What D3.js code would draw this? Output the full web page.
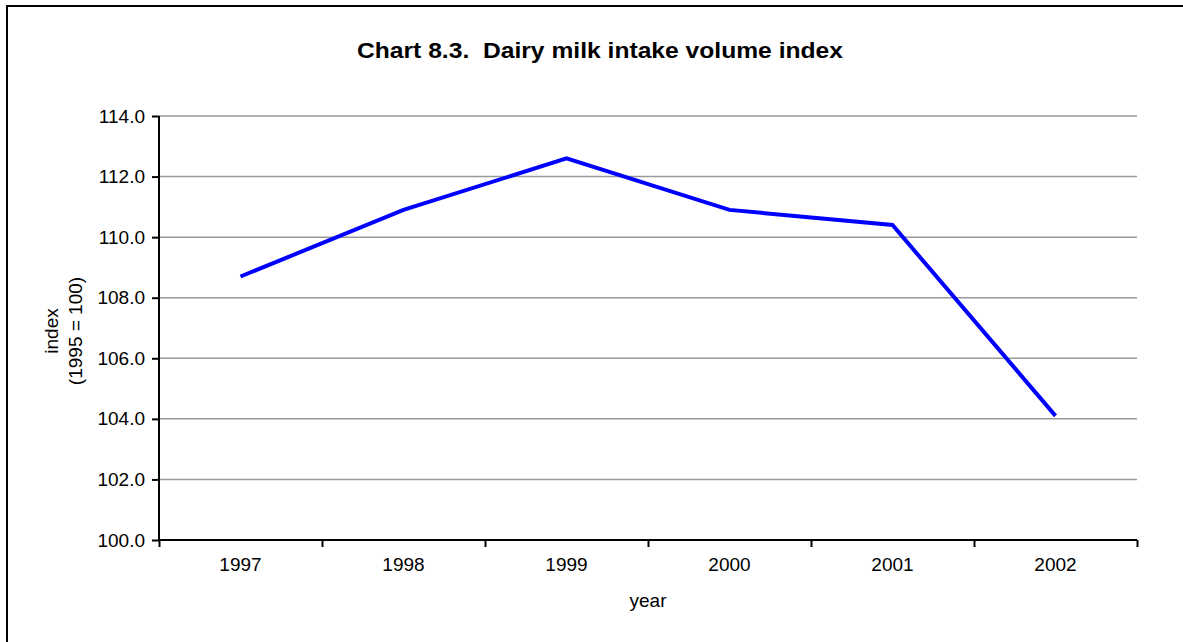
<!DOCTYPE html>
<html>
<head>
<meta charset="utf-8">
<script src="https://cdn.jsdelivr.net/npm/d3@7"></script>
<style>
  html, body { margin: 0; padding: 0; background: #fff; }
  svg { display: block; font-family: "Liberation Sans", Arial, sans-serif; }
</style>
</head>
<body>
<svg id="chart" width="1183" height="642"></svg>
<script>
const titleText = "Chart 8.3.  Dairy milk intake volume index";
const years = ["1997", "1998", "1999", "2000", "2001", "2002"];
const values = [108.7, 110.9, 112.6, 110.9, 110.4, 104.1];
const yTicks = [100, 102, 104, 106, 108, 110, 112, 114];
const yLabelLines = ["index", "(1995 = 100)"];
const xLabel = "year";

const W = 1183, H = 642;
const m = { left: 159, right: 1137, top: 116, bottom: 540 };
const FS = 19;
const svg = d3.select("#chart");

// outer frame (extends past the right/bottom edges as in the reference)
svg.append("rect").attr("x", 7).attr("y", 6).attr("width", W + 20).attr("height", H + 20)
  .attr("fill", "#fff").attr("stroke", "#000").attr("stroke-width", 2);

const x = d3.scaleBand().domain(years).range([m.left, m.right]).padding(0);
const xb = d3.scaleLinear().domain([0, years.length]).range([m.left, m.right]);
const y = d3.scaleLinear().domain([100, 114]).range([m.bottom, m.top]);

// gridlines
svg.append("g").selectAll("line").data(yTicks.filter(d => d > 100)).join("line")
  .attr("x1", m.left).attr("x2", m.right)
  .attr("y1", d => y(d)).attr("y2", d => y(d))
  .attr("stroke", "#999").attr("stroke-width", 1.5);

// y axis
const yAxis = svg.append("g").attr("transform", `translate(${m.left},0)`)
  .call(d3.axisLeft(y).tickValues(yTicks).tickFormat(d3.format(".1f")).tickSize(7).tickPadding(7));
yAxis.select(".domain").attr("stroke", "#000").attr("stroke-width", 2).attr("d", `M0,${m.top}V${m.bottom}`);
yAxis.selectAll(".tick line").attr("stroke", "#000").attr("stroke-width", 2);
yAxis.selectAll(".tick text").attr("font-size", FS).attr("fill", "#000")
  .attr("font-family", "'Liberation Sans', Arial, sans-serif");

// x axis: boundary ticks
const xAxisTicks = svg.append("g").attr("transform", `translate(0,${m.bottom})`)
  .call(d3.axisBottom(xb).tickValues(d3.range(years.length + 1)).tickFormat("").tickSize(7));
xAxisTicks.select(".domain").attr("stroke", "#000").attr("stroke-width", 2).attr("d", `M${m.left},0H${m.right}`);
xAxisTicks.selectAll(".tick line").attr("stroke", "#000").attr("stroke-width", 2);

// x axis labels
const xAxisLabels = svg.append("g").attr("transform", `translate(0,${m.bottom})`)
  .call(d3.axisBottom(x).tickSize(0).tickPadding(18));
xAxisLabels.select(".domain").remove();
xAxisLabels.selectAll(".tick text").attr("font-size", FS).attr("fill", "#000")
  .attr("font-family", "'Liberation Sans', Arial, sans-serif");

// line
const line = d3.line().x((d, i) => x(years[i]) + x.bandwidth() / 2).y(d => y(d));
svg.append("path").datum(values).attr("d", line)
  .attr("fill", "none").attr("stroke", "#0000ff").attr("stroke-width", 4)
  .attr("stroke-linejoin", "miter");

// title
svg.append("text").attr("x", 600).attr("y", 58).attr("text-anchor", "middle")
  .attr("font-size", 22.5).attr("font-weight", "bold").attr("fill", "#000")
  .attr("textLength", 486).attr("lengthAdjust", "spacingAndGlyphs")
  .style("white-space", "pre").text(titleText);

// y label
const yl = svg.append("text").attr("transform", `translate(0,${(m.top + m.bottom) / 2 + 3}) rotate(-90)`)
  .attr("text-anchor", "middle").attr("font-size", FS).attr("fill", "#000");
yLabelLines.forEach((t, i) => {
  yl.append("tspan").attr("x", 0).attr("y", 58 + i * 24).text(t);
});

// x label
svg.append("text").attr("x", (m.left + m.right) / 2).attr("y", 607).attr("text-anchor", "middle")
  .attr("font-size", FS).attr("fill", "#000").text(xLabel);
</script>
</body>
</html>
